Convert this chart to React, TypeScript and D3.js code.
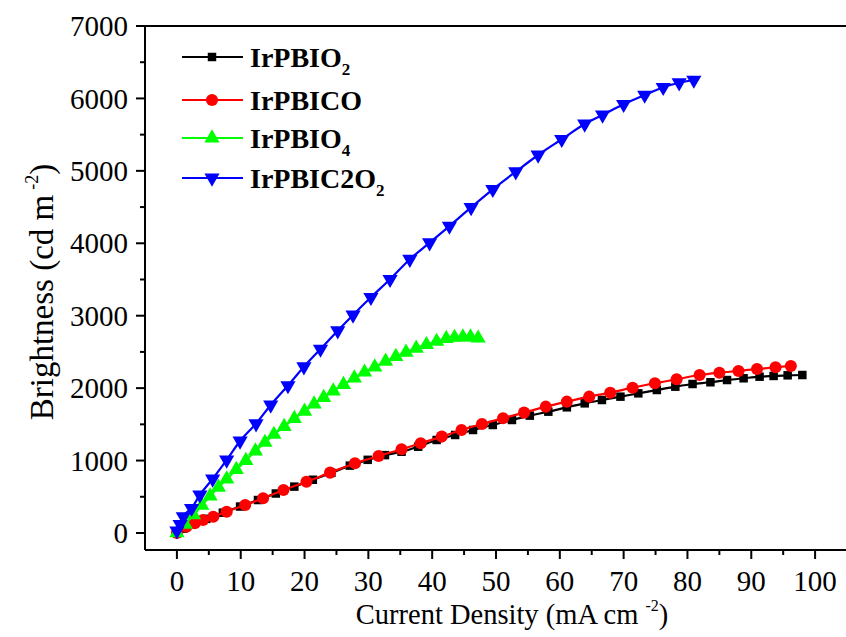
import React from "react";
import * as d3 from "d3";

const xTicks = [0, 10, 20, 30, 40, 50, 60, 70, 80, 90, 100];
const yTicks = [0, 1000, 2000, 3000, 4000, 5000, 6000, 7000];
const xMinor = [5, 15, 25, 35, 45, 55, 65, 75, 85, 95];
const yMinor = [500, 1500, 2500, 3500, 4500, 5500, 6500];

const blackX = [0, 1, 2.3, 4.6, 7.2, 9.9, 12.7, 15.5, 18.4, 21.3, 24.2, 27.1, 29.9, 32.6, 35.2, 37.8, 40.7, 43.6, 46.4, 49.5, 52.5, 55.3, 58.2, 61.1, 63.9, 66.6, 69.5, 72.3, 75.2, 78.1, 80.8, 83.6, 86.2, 88.8, 91.3, 93.5, 95.7, 98.0];
const blackY = [0, 60, 115, 195, 280, 365, 455, 545, 640, 735, 830, 930, 1010, 1075, 1122, 1191, 1284, 1353, 1422, 1491, 1560, 1620, 1675, 1735, 1790, 1836, 1882, 1928, 1974, 2020, 2057, 2081, 2112, 2136, 2158, 2168, 2177, 2181];

const redX = [0, 1.5, 2.8, 4.1, 5.7, 7.8, 10.7, 13.5, 16.7, 20.3, 24.0, 27.9, 31.6, 35.2, 38.2, 41.5, 44.6, 47.8, 51.1, 54.4, 57.8, 61.1, 64.6, 67.9, 71.4, 74.9, 78.3, 81.9, 85.0, 88.0, 90.9, 93.8, 96.2];
const redY = [0, 87, 134, 180, 225, 294, 387, 479, 594, 708, 833, 962, 1063, 1156, 1239, 1331, 1422, 1505, 1584, 1662, 1744, 1813, 1882, 1937, 2006, 2067, 2122, 2181, 2213, 2237, 2264, 2288, 2306];

const greenX = [0, 1.3, 2.6, 3.9, 5.2, 6.5, 7.8, 9.3, 10.8, 12.3, 13.8, 15.2, 16.8, 18.4, 20.0, 21.5, 23.0, 24.5, 26.1, 27.8, 29.4, 31.0, 32.7, 34.3, 35.9, 37.5, 39.1, 40.7, 42.2, 43.5, 44.8, 46.0, 47.2];
const greenY = [0, 120, 250, 380, 510, 630, 745, 875, 1000, 1130, 1250, 1360, 1470, 1580, 1680, 1780, 1870, 1960, 2050, 2140, 2220, 2290, 2370, 2435, 2495, 2550, 2600, 2645, 2685, 2700, 2705, 2705, 2690];

const blueX = [0, 0.5, 1, 2.3, 3.6, 5.6, 7.8, 9.9, 12.4, 14.7, 17.4, 19.9, 22.5, 25.2, 27.6, 30.4, 33.4, 36.5, 39.6, 42.7, 46.1, 49.5, 53.1, 56.6, 60.3, 63.9, 66.7, 70.0, 73.3, 76.2, 78.7, 81.0];
const blueY = [30, 120, 225, 341, 525, 746, 1008, 1270, 1510, 1767, 2035, 2296, 2540, 2793, 3010, 3254, 3503, 3780, 4008, 4238, 4496, 4745, 4988, 5219, 5436, 5647, 5771, 5919, 6047, 6154, 6217, 6254];

type Series = { name: string; sub: string; xs: number[]; ys: number[]; color: string; marker: string };

const seriesList: Series[] = [
  { name: "IrPBIO", sub: "2", xs: blackX, ys: blackY, color: "#000000", marker: "square" },
  { name: "IrPBICO", sub: "", xs: redX, ys: redY, color: "#ff0000", marker: "circle" },
  { name: "IrPBIO", sub: "4", xs: greenX, ys: greenY, color: "#00ff00", marker: "up" },
  { name: "IrPBIC2O", sub: "2", xs: blueX, ys: blueY, color: "#0000ff", marker: "down" },
];

const FONT = "'Liberation Serif', 'Times New Roman', serif";

const x = d3.scaleLinear().domain([-5, 105]).range([145, 847]);
const y = d3.scaleLinear().domain([-235, 7000]).range([550, 26]);

function markerPath(m: string): { d: string; rot: number } {
  if (m === "square") return { d: d3.symbol().type(d3.symbolSquare).size(72)() || "", rot: 0 };
  if (m === "circle") return { d: d3.symbol().type(d3.symbolCircle).size(115)() || "", rot: 0 };
  if (m === "up") return { d: d3.symbol().type(d3.symbolTriangle).size(100)() || "", rot: 0 };
  return { d: d3.symbol().type(d3.symbolTriangle).size(100)() || "", rot: 180 };
}

export default function App() {
  const line = d3
    .line<[number, number]>()
    .x((d) => x(d[0]))
    .y((d) => y(d[1]))
    .curve(d3.curveMonotoneX);

  const legendRows = [57, 100, 138, 178];

  return (
    <svg width={846} height={637} style={{ position: "absolute", left: 0, top: 0, background: "#fff" }}>
      <rect x={0} y={0} width={846} height={637} fill="#fff" />
      {/* frame */}
      <g stroke="#000" strokeWidth={2} fill="none">
        <line x1={x(-5)} x2={x(-5)} y1={y(7000)} y2={y(-235)} />
        <line x1={x(-5)} x2={x(105)} y1={y(-235)} y2={y(-235)} />
        <line x1={x(-5)} x2={x(105)} y1={y(7000)} y2={y(7000)} />
        <line x1={x(105)} x2={x(105)} y1={y(7000)} y2={y(-235)} />
        {yTicks.map((t) => (
          <line key={"yt" + t} x1={x(-5) - 9} x2={x(-5)} y1={y(t)} y2={y(t)} />
        ))}
        {yMinor.map((t) => (
          <line key={"ym" + t} x1={x(-5) - 5} x2={x(-5)} y1={y(t)} y2={y(t)} />
        ))}
        {xTicks.map((t) => (
          <line key={"xt" + t} x1={x(t)} x2={x(t)} y1={y(-235)} y2={y(-235) + 9} />
        ))}
        {xMinor.map((t) => (
          <line key={"xm" + t} x1={x(t)} x2={x(t)} y1={y(-235)} y2={y(-235) + 5} />
        ))}
      </g>
      {/* tick labels */}
      <g fontFamily={FONT} fontSize={29} fill="#000">
        {yTicks.map((t) => (
          <text key={"yl" + t} x={x(-5) - 17} y={y(t)} dy="0.35em" textAnchor="end">
            {t}
          </text>
        ))}
        {xTicks.map((t) => (
          <text key={"xl" + t} x={x(t)} y={y(-235) + 41} textAnchor="middle">
            {t}
          </text>
        ))}
      </g>
      {/* axis titles */}
      <text x={512} y={624} textAnchor="middle" fontFamily={FONT} fontSize={28.5} fill="#000">
        Current Density (mA cm
        <tspan dx={7} dy={-13} fontSize={16}>-2</tspan>
        <tspan dy={13}>)</tspan>
      </text>
      <text
        transform="translate(53,292) rotate(-90)"
        textAnchor="middle"
        fontFamily={FONT}
        fontSize={33}
        fill="#000"
      >
        Brightness (cd m
        <tspan dx={5} dy={-15} fontSize={18}>-2</tspan>
        <tspan dy={15}>)</tspan>
      </text>
      {/* series */}
      {seriesList.map((s, i) => {
        const pts = s.xs.map((v, k) => [v, s.ys[k]] as [number, number]);
        const mk = markerPath(s.marker);
        return (
          <g key={"s" + i}>
            <path d={line(pts) || ""} fill="none" stroke={s.color} strokeWidth={2.2} />
            {pts.map((p, k) => (
              <path
                key={k}
                d={mk.d}
                transform={`translate(${x(p[0])},${y(p[1])}) rotate(${mk.rot})`}
                fill={s.color}
              />
            ))}
          </g>
        );
      })}
      {/* legend */}
      {seriesList.map((s, i) => {
        const mk = markerPath(s.marker);
        const ly = legendRows[i];
        return (
          <g key={"lg" + i}>
            <line x1={182} x2={243} y1={ly} y2={ly} stroke={s.color} strokeWidth={2.2} />
            <path d={mk.d} transform={`translate(212,${ly}) rotate(${mk.rot})`} fill={s.color} />
            <text x={250} y={ly} dy="0.35em" fontFamily={FONT} fontWeight="bold" fontSize={28} fill="#000">
              {s.name}
              {s.sub && (
                <tspan dy={8} fontSize={17}>
                  {s.sub}
                </tspan>
              )}
            </text>
          </g>
        );
      })}
    </svg>
  );
}
